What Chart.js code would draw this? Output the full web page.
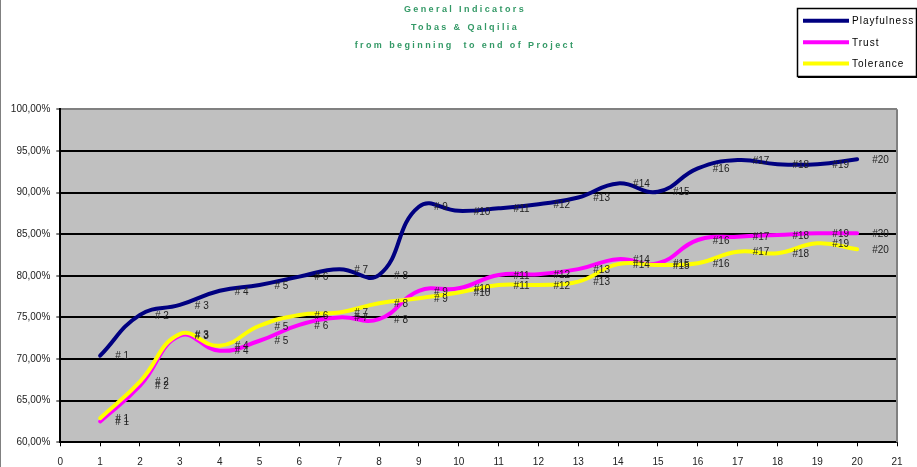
<!DOCTYPE html>
<html>
<head>
<meta charset="utf-8">
<script src="https://cdn.jsdelivr.net/npm/chart.js@4/dist/chart.umd.min.js"></script>
<style>
html,body{margin:0;padding:0;background:#fff;}
canvas{display:block;}
</style>
</head>
<body>
<canvas id="c" width="917" height="467"></canvas>
<script>
// ---- data ----
const titleLines = ['General Indicators', 'Tobas & Qalqilia', 'from beginning  to end of Project'];
const seriesNames = ['Playfulness', 'Trust', 'Tolerance'];
const categories = [1,2,3,4,5,6,7,8,9,10,11,12,13,14,15,16,17,18,19,20];
const pointLabels = ['# 1','# 2','# 3','# 4','# 5','# 6','# 7','# 8','# 9','#10','#11','#12','#13','#14','#15','#16','#17','#18','#19','#20'];
const playfulness = [70.4, 75.3, 76.5, 78.2, 78.9, 79.9, 80.8, 80.1, 88.3, 87.8, 88.1, 88.6, 89.4, 91.1, 90.1, 92.9, 93.9, 93.4, 93.4, 94.0];
const trust       = [62.5, 66.8, 72.8, 71.0, 72.2, 74.1, 75.0, 74.8, 78.2, 78.5, 80.1, 80.2, 80.8, 82.0, 81.5, 84.3, 84.7, 84.9, 85.1, 85.1];
const tolerance   = [62.9, 67.3, 73.0, 71.6, 74.0, 75.3, 75.6, 76.7, 77.3, 78.0, 78.9, 78.9, 79.3, 81.4, 81.3, 81.5, 82.9, 82.7, 83.9, 83.2];
const yTicks = {min: 60, max: 100, step: 5};
const xTicks = {min: 0, max: 21, step: 1};

const colors = ['#000080', '#FF00FF', '#FFFF00'];
const FONT = '"Liberation Sans", Arial, sans-serif';

function pts(vals){ return categories.map((c,i)=>({x:c, y:vals[i]})); }

const bgPlugin = {
  id: 'bg',
  beforeDraw(chart){
    const {ctx, chartArea:a} = chart;
    ctx.save();
    ctx.fillStyle = '#C0C0C0';
    ctx.fillRect(a.left, a.top, a.right - a.left, a.bottom - a.top);
    ctx.strokeStyle = '#808080';
    ctx.lineWidth = 1;
    ctx.beginPath(); ctx.moveTo(0.5, 0); ctx.lineTo(0.5, chart.height); ctx.stroke();
    ctx.restore();
  },
  afterDraw(chart){
    const {ctx, chartArea:a} = chart;
    ctx.save();
    ctx.strokeStyle = '#808080';
    ctx.lineWidth = 2;
    ctx.beginPath(); ctx.moveTo(a.right, a.top); ctx.lineTo(a.right, a.bottom); ctx.stroke();
    // title
    ctx.fillStyle = '#339966';
    ctx.font = 'bold 9px ' + FONT;
    ctx.textAlign = 'center';
    ctx.textBaseline = 'middle';
    try { ctx.letterSpacing = '2.4px'; } catch(e) {}
    const ty = [9.5, 27.5, 45.5];
    titleLines.forEach((t,i)=> ctx.fillText(t, 465, ty[i]));
    try { ctx.letterSpacing = '0px'; } catch(e) {}
    // legend
    const lx = 797, ly = 8, lw = 119, lh = 68;
    ctx.fillStyle = '#fff';
    ctx.fillRect(lx, ly, lw, lh);
    ctx.strokeStyle = '#000';
    ctx.lineWidth = 1.5;
    ctx.strokeRect(lx + 0.5, ly + 0.5, lw, lh);
    ctx.fillStyle = '#000';
    ctx.fillRect(lx + 1, ly + lh, lw, 2);
    const rows = [20.7, 42.3, 63.5];
    ctx.font = '10px ' + FONT;
    ctx.textAlign = 'left';
    try { ctx.letterSpacing = '1px'; } catch(e) {}
    chart.data.datasets.forEach((ds,i)=>{
      ctx.strokeStyle = ds.borderColor;
      ctx.lineWidth = 4;
      ctx.beginPath(); ctx.moveTo(803, rows[i]); ctx.lineTo(849, rows[i]); ctx.stroke();
      ctx.fillStyle = '#000';
      ctx.fillText(ds.label, 852, rows[i] + 0.5);
    });
    try { ctx.letterSpacing = '0px'; } catch(e) {}
    ctx.restore();
  }
};

const labelPlugin = {
  id: 'ptlabels',
  afterDatasetsDraw(chart){
    const {ctx} = chart;
    ctx.save();
    ctx.font = '10px ' + FONT;
    ctx.fillStyle = '#222';
    ctx.textAlign = 'left';
    ctx.textBaseline = 'middle';
    chart.data.datasets.forEach((ds,i)=>{
      const meta = chart.getDatasetMeta(i);
      meta.data.forEach((p,j)=>{
        ctx.fillText(pointLabels[j], p.x + 15, p.y + 1);
      });
    });
    ctx.restore();
  }
};

new Chart(document.getElementById('c'), {
  type: 'line',
  data: {
    datasets: [
      {label: seriesNames[0], data: pts(playfulness), borderColor: colors[0], order: 2},
      {label: seriesNames[1], data: pts(trust), borderColor: colors[1], order: 1},
      {label: seriesNames[2], data: pts(tolerance), borderColor: colors[2], order: 0}
    ]
  },
  options: {
    responsive: false,
    animation: false,
    events: [],
    elements: {
      line: {borderWidth: 4, tension: 0.45, fill: false, borderCapStyle: 'round', borderJoinStyle: 'round'},
      point: {radius: 0, hoverRadius: 0}
    },
    layout: {padding: {top: 109.3, right: 20, left: 0, bottom: 0}},
    plugins: {legend: {display: false}, title: {display: false}, tooltip: {enabled: false}},
    scales: {
      x: {
        type: 'linear', min: xTicks.min, max: xTicks.max,
        afterFit(s){ s.height = 24.7; },
        ticks: {stepSize: xTicks.step, color: '#222', font: {family: FONT, size: 10}, padding: 10, maxRotation: 0, autoSkip: false},
        grid: {drawOnChartArea: false, drawTicks: true, tickLength: 4, tickColor: '#000', tickWidth: 1},
        border: {color: '#000', width: 2}
      },
      y: {
        min: yTicks.min, max: yTicks.max,
        afterFit(s){ s.width = 60.3; },
        ticks: {stepSize: yTicks.step, color: '#222', font: {family: FONT, size: 10}, padding: 6,
          callback: v => v.toFixed(2).replace('.', ',') + '%'},
        grid: {color: c => (c.tick && c.tick.value === yTicks.max) ? '#808080' : '#000', lineWidth: 2,
          drawTicks: true, tickLength: 4, tickColor: '#000', tickWidth: 1},
        border: {color: '#000', width: 2}
      }
    }
  },
  plugins: [bgPlugin, labelPlugin]
});
</script>
</body>
</html>
